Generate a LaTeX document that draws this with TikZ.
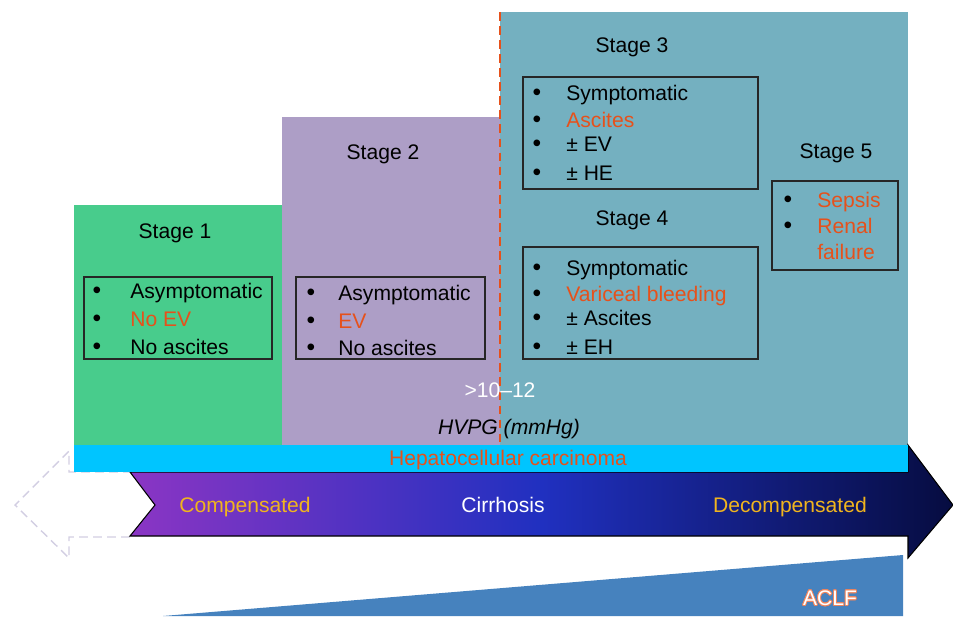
\documentclass[tikz,border=0pt]{standalone}
\usepackage{fontspec}
\setmainfont{Liberation Sans}
\usepackage[copies]{contour}
\contourlength{0.5pt}
\usetikzlibrary{positioning, fit}

\definecolor{stageone}{HTML}{48CC8C}
\definecolor{stagetwo}{HTML}{AD9EC6}
\definecolor{stagethree}{HTML}{74B0C0}
\definecolor{hccband}{HTML}{00C5FF}
\definecolor{redtext}{HTML}{E6511B}
\definecolor{goldtext}{HTML}{F0B41E}
\definecolor{aclfblue}{HTML}{4682BE}
\definecolor{arrowleft}{HTML}{8B35C4}
\definecolor{arrowmid}{HTML}{2030C0}
\definecolor{arrowright}{HTML}{060C40}
\definecolor{ghost}{HTML}{D2CEE2}

\begin{document}
\begin{tikzpicture}[x=0.02cm, y=-0.02cm,
  every node/.style={font=\fontsize{12}{14}\selectfont, inner sep=0pt, text height=8.6pt, text depth=0pt},
  title/.style={text=black},
  listbox/.style={draw=black!85, line width=0.6pt, fill=none},
  bul/.style={anchor=center, font=\fontsize{14}{14}\selectfont},
  entry/.style={anchor=west}]
\useasboundingbox (0,0) rectangle (953,616);

% Stage panels
\fill[stageone] (74,205) rectangle (282,445);
\fill[stagetwo] (282,117) rectangle (500,445);
\fill[stagethree] (500,12) rectangle (908,445);
\draw[redtext, dash pattern=on 5pt off 3pt, line width=0.8pt] (500,12) -- (500,447);

% Ghost arrow (left)
\draw[ghost, dash pattern=on 5pt off 3pt, line width=0.8pt] (130,537) -- (69,537) -- (69,558) -- (15,505) -- (69,451) -- (69,472) -- (130,472);

% ACLF wedge
\fill[aclfblue] (163,616) -- (903,555) -- (903,616) -- cycle;
\node (aclf) at (830,598) {\contour{redtext!70!white}{\textcolor{white}{ACLF}}};

% Cirrhosis arrow
\draw[black, line width=0.6pt, left color=arrowleft, right color=arrowright, middle color=arrowmid]
  (130,472) -- (908,472) -- (908,445) -- (953,505) -- (908,558) -- (908,536)
  -- (130,536) -- (155,505) -- cycle;
\node[text=goldtext] (comp) at (245,505) {Compensated};
\node[text=white] (cirr) at (503,505) {Cirrhosis};
\node[text=goldtext] (decomp) at (790,505) {Decompensated};

% HCC band
\fill[hccband] (74,445) rectangle (908,472);
\node[text=redtext] (hcc) at (508,458) {Hepatocellular carcinoma};

% HVPG
\node[text=white] (cutoff) at (500,390) {>10--12};
\node[font=\fontsize{12}{14}\selectfont\itshape] (hvpg) at (509,427) {HVPG (mmHg)};

% Stage 1
\node[title] (s1) at (175,231) {Stage 1};
\node[listbox, fit={(84,277) (272,359)}] (box1) {};
\foreach \y/\t in {291/Asymptomatic, 319/\textcolor{redtext}{No EV}, 347/No ascites}
  {\node[bul] at (97,\y) {\textbullet}; \node[entry] at (130,\y) {\t};}

% Stage 2
\node[title] (s2) at (383,152) {Stage 2};
\node[listbox, fit={(296,277) (485,359)}] (box2) {};
\foreach \y/\t in {293/Asymptomatic, 321/\textcolor{redtext}{EV}, 348/No ascites}
  {\node[bul] at (311,\y) {\textbullet}; \node[entry] at (338,\y) {\t};}

% Stage 3
\node[title] (s3) at (632,45) {Stage 3};
\node[listbox, fit={(523,77) (758,189)}] (box3) {};
\foreach \y/\t in {93/Symptomatic, 120/\textcolor{redtext}{Ascites}, 144/± EV, 173/± HE}
  {\node[bul] at (537,\y) {\textbullet}; \node[entry] at (566,\y) {\t};}

% Stage 4
\node[title] (s4) at (632,218) {Stage 4};
\node[listbox, fit={(523,247) (758,359)}] (box4) {};
\foreach \y/\t in {268/Symptomatic, 294/\textcolor{redtext}{Variceal bleeding}, 318/± Ascites, 347/± EH}
  {\node[bul] at (537,\y) {\textbullet}; \node[entry] at (566,\y) {\t};}

% Stage 5
\node[title] (s5) at (836,151) {Stage 5};
\node[listbox, fit={(772,181) (898,270)}] (box5) {};
\foreach \y/\t in {200/Sepsis, 226/Renal}
  {\node[bul] at (788,\y) {\textbullet}; \node[entry, text=redtext] at (817,\y) {\t};}
\node[entry, text=redtext] (fail) at (817,252) {failure};
\end{tikzpicture}
\end{document}
